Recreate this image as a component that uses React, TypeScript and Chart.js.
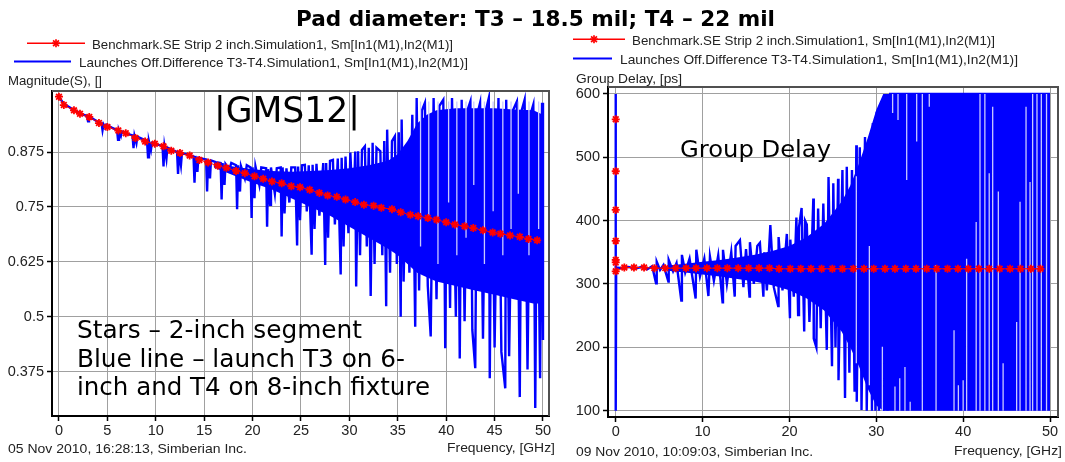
import React, { useEffect, useRef } from "react";
import { Chart, registerables } from "chart.js";

Chart.register(...registerables);

// ---------------- Left chart: |GMS12| magnitude ----------------
const xTicksL = [0, 5, 10, 15, 20, 25, 30, 35, 40, 45, 50];
const xLabelsL = ["0", "5", "10", "15", "20", "25", "30", "35", "40", "45", "50"];
const yTicksL = [0.375, 0.5, 0.625, 0.75, 0.875];
const yLabelsL = ["0.375", "0.5", "0.625", "0.75", "0.875"];

// Benchmark (stars)
const redFL = [0, 0.5, 1.55, 2.17, 3.13, 4.13, 5.0, 6.13, 6.9, 7.9,
  8.9, 9.9, 10.8, 11.6, 12.5, 13.5, 14.5, 15.4, 16.4, 17.3,
  18.3, 19.2, 20.2, 21.1, 22.0, 23.0, 24.0, 24.9, 25.9, 26.9,
  27.75, 28.7, 29.6, 30.6, 31.5, 32.5, 33.3, 34.4, 35.3, 36.3,
  37.1, 38.1, 39.0, 40.0, 40.9, 41.9, 42.8, 43.8, 44.8, 45.6,
  46.6, 47.6, 48.5, 49.4];
const redVL = [1.001, 0.982, 0.970, 0.962, 0.955, 0.941, 0.932, 0.924, 0.918, 0.907,
  0.899, 0.894, 0.888, 0.878, 0.873, 0.867, 0.857, 0.851, 0.844, 0.839,
  0.832, 0.827, 0.820, 0.814, 0.808, 0.804, 0.797, 0.795, 0.789, 0.782,
  0.776, 0.773, 0.767, 0.761, 0.755, 0.753, 0.748, 0.745, 0.738, 0.732,
  0.729, 0.725, 0.721, 0.715, 0.710, 0.706, 0.702, 0.697, 0.692, 0.689,
  0.685, 0.682, 0.677, 0.674];

// Launches difference (blue line: peaks and dips)
const blueFL = [0, 0.5, 1.0, 1.5, 2.0, 2.5, 2.9, 3.0, 3.1, 3.5,
  4.0, 4.4, 4.5, 4.6, 4.8, 4.9, 5.5, 6.0, 6.1, 6.2,
  6.4, 6.5, 7.0, 7.6, 7.7, 7.8, 8.0, 8.1, 8.6, 9.1,
  9.2, 9.3, 9.5, 9.6, 10.2, 10.7, 10.8, 10.9, 11.1, 11.2,
  11.7, 12.2, 12.3, 12.4, 12.6, 12.7, 13.2, 13.9, 14.0, 14.1,
  14.3, 14.4, 14.8, 15.2, 15.3, 15.4, 15.6, 15.7, 16.2, 16.7,
  16.8, 16.9, 17.1, 17.2, 17.6, 17.8, 18.3, 18.4, 18.5, 18.7,
  18.8, 19.2, 19.4, 19.8, 19.9, 20.0, 20.2, 20.3, 20.7, 20.9,
  21.4, 21.5, 21.6, 21.8, 21.9, 22.3, 22.5, 22.9, 23.0, 23.1,
  23.3, 23.5, 23.8, 24.0, 24.4, 24.6, 24.7, 24.9, 25.1, 25.4,
  25.6, 25.8, 26.1, 26.2, 26.4, 26.6, 26.9, 27.3, 27.5, 27.6,
  27.8, 28.0, 28.3, 28.5, 28.8, 29.1, 29.2, 29.4, 29.6, 29.9,
  30.1, 30.4, 30.6, 30.7, 30.9, 31.1, 31.3, 31.6, 31.8, 32.0,
  32.2, 32.4, 32.6, 32.8, 33.2, 33.4, 33.6, 33.8, 33.9, 34.2,
  34.4, 34.7, 34.9, 35.1, 35.3, 35.4, 35.6, 35.9, 36.2, 36.5,
  36.8, 36.95, 37.2, 37.5, 37.8, 38.1, 38.4, 38.7, 39.0, 39.3,
  39.7, 39.9, 40.1, 40.4, 40.6, 41.0, 41.2, 41.4, 41.6, 41.9,
  42.2, 42.5, 42.7, 43.0, 43.2, 43.5, 43.8, 44.1, 44.4, 44.5,
  44.7, 45.0, 45.4, 45.7, 46.1, 46.2, 46.5, 46.9, 47.3, 47.6,
  47.8, 48.1, 48.4, 48.7, 49.0, 49.2, 49.4, 49.7, 49.9, 50.0];
const blueVL = [1.0, 0.985, 0.978, 0.971, 0.966, 0.96, 0.957, 0.945, 0.956, 0.951,
  0.944, 0.94, 0.925, 0.938, 0.93, 0.937, 0.93, 0.925, 0.903, 0.924,
  0.912, 0.922, 0.917, 0.913, 0.884, 0.912, 0.895, 0.91, 0.905, 0.9,
  0.863, 0.899, 0.88, 0.896, 0.892, 0.889, 0.842, 0.888, 0.86, 0.885,
  0.88, 0.875, 0.825, 0.874, 0.845, 0.872, 0.87, 0.865, 0.805, 0.866,
  0.83, 0.862, 0.86, 0.858, 0.785, 0.858, 0.815, 0.856, 0.852, 0.85,
  0.767, 0.85, 0.8, 0.848, 0.835, 0.85, 0.845, 0.745, 0.845, 0.785,
  0.843, 0.815, 0.845, 0.84, 0.725, 0.84, 0.77, 0.842, 0.8, 0.84,
  0.838, 0.705, 0.836, 0.755, 0.84, 0.78, 0.838, 0.84, 0.683, 0.84,
  0.735, 0.838, 0.76, 0.84, 0.84, 0.662, 0.842, 0.72, 0.845, 0.846,
  0.74, 0.845, 0.641, 0.846, 0.7, 0.848, 0.73, 0.85, 0.618, 0.85,
  0.68, 0.855, 0.857, 0.71, 0.86, 0.596, 0.862, 0.66, 0.865, 0.69,
  0.874, 0.72, 0.876, 0.569, 0.877, 0.64, 0.88, 0.888, 0.66, 0.885,
  0.547, 0.896, 0.62, 0.885, 0.877, 0.64, 0.9, 0.524, 0.926, 0.6,
  0.9, 0.911, 0.62, 0.92, 0.5, 0.949, 0.58, 0.888, 0.6, 0.96,
  0.477, 0.998, 0.56, 0.97, 0.987, 0.57, 0.455, 0.998, 0.54, 0.98,
  0.994, 0.428, 0.97, 0.52, 0.998, 0.5, 0.97, 0.405, 0.994, 0.49,
  0.97, 0.99, 0.47, 0.383, 0.96, 0.987, 0.45, 0.97, 0.998, 0.36,
  0.95, 0.43, 0.998, 0.42, 0.337, 0.994, 0.41, 0.97, 0.99, 0.317,
  0.97, 0.994, 0.38, 0.96, 0.983, 0.292, 0.95, 0.36, 0.987, 0.447];

// Dense (solid) core of the blue trace
const bandFL = [16, 18, 20, 22, 24, 26, 28, 30, 32, 34, 35, 36, 37, 38, 39, 41, 43, 45, 47, 49, 50];
const bandUL = [0.85, 0.842, 0.836, 0.832, 0.83, 0.832, 0.834, 0.838, 0.845, 0.855, 0.87, 0.9, 0.94, 0.96, 0.97, 0.975, 0.975, 0.975, 0.972, 0.97, 0.96];
const bandLL = [0.84, 0.822, 0.805, 0.79, 0.77, 0.75, 0.73, 0.705, 0.68, 0.655, 0.64, 0.62, 0.6, 0.59, 0.58, 0.57, 0.56, 0.55, 0.54, 0.53, 0.53];

// Light gaps inside the dense core
const gapFL = [37.35, 38.2, 39.15, 40.25, 41.1, 42.05, 42.85, 43.95, 44.85, 45.85, 46.7, 47.45, 48.55, 49.55];
const gapTL = [0.99, 0.99, 0.99, 0.99, 0.99, 0.99, 0.99, 0.99, 0.99, 0.99, 0.99, 0.99, 0.99, 0.99];
const gapBL = [0.66, 0.72, 0.62, 0.76, 0.64, 0.68, 0.8, 0.62, 0.74, 0.64, 0.7, 0.78, 0.64, 0.7];

// ---------------- Right chart: Group delay ----------------
const xTicksR = [0, 10, 20, 30, 40, 50];
const xLabelsR = ["0", "10", "20", "30", "40", "50"];
const yTicksR = [100, 200, 300, 400, 500, 600];
const yLabelsR = ["100", "200", "300", "400", "500", "600"];

const redFR = [0, 0, 0, 0, 0, 0, 0, 0.99, 2.1, 3.26,
  4.45, 5.7, 6.9, 8.1, 9.25, 10.5, 11.7, 12.85, 14.1, 15.3,
  16.5, 17.7, 18.8, 20.1, 21.3, 22.48, 23.7, 24.94, 26.1, 27.36,
  28.58, 29.7, 31.0, 32.15, 33.4, 34.57, 35.8, 36.95, 38.2, 39.4,
  40.6, 41.8, 43.0, 44.2, 45.4, 46.6, 47.8, 48.9];
const redVR = [560, 478, 417, 368, 338, 334, 320, 326, 326, 326,
  325, 325, 325, 325, 325, 325, 325, 325, 325, 325,
  325, 325, 324, 324, 324, 324, 324, 324, 324, 324,
  324, 324, 324, 324, 324, 324, 324, 324, 324, 324,
  324, 324, 324, 324, 324, 324, 324, 324];

const blueFR = [0, 0, 0.05, 0.8, 1.5, 2.2, 3.0, 3.6, 4.2, 4.64,
  4.72, 5.1, 5.5, 6.06, 6.1, 6.6, 7.0, 7.55, 7.62, 8.0,
  8.5, 9.2, 9.28, 9.7, 10.2, 10.67, 10.85, 11.3, 11.8, 12.3,
  12.35, 12.8, 13.3, 13.7, 13.8, 14.3, 14.7, 15.0, 15.4, 15.45,
  15.9, 16.3, 16.6, 17.0, 17.1, 17.4, 17.8, 18.2, 18.7, 18.75,
  19.2, 19.7, 20.06, 20.1, 20.5, 20.8, 21.0, 21.1, 21.4, 21.7,
  21.8, 22.0, 22.3, 22.75, 22.8, 23.1, 23.3, 23.6, 23.9, 24.3,
  24.5, 24.9, 25.05, 25.3, 25.6, 25.65, 26.1, 26.4, 26.6, 26.9,
  27.2, 27.5, 27.7, 27.75, 28.1, 28.3, 28.7, 28.9, 29.3, 29.5,
  29.6, 29.9, 30.05, 30.3, 30.6, 30.8, 31.1, 31.3, 31.6, 50];
const blueVR = [600, 100, 326, 325, 327, 324, 327, 323, 328, 301,
  335, 322, 330, 304, 338, 320, 333, 274, 346, 318,
  340, 277, 354, 312, 340, 281, 343, 305, 345, 271,
  354, 300, 350, 280, 360, 369, 295, 355, 280, 366,
  300, 360, 365, 280, 350, 290, 393, 295, 265, 374,
  290, 379, 246, 370, 280, 405, 251, 390, 420, 225,
  400, 394, 240, 435, 214, 200, 419, 230, 427, 196,
  469, 170, 459, 200, 466, 148, 480, 120, 485, 160,
  480, 130, 519, 114, 516, 101, 532, 100, 535, 100,
  554, 100, 572, 100, 585, 100, 596, 100, 600, 600];

const bandFR = [6, 8, 10, 12, 14, 16, 18, 20, 22, 24, 26, 27, 28, 29, 30, 30.8, 50];
const bandUR = [329, 332, 335, 338, 342, 346, 352, 360, 374, 395, 430, 455, 490, 530, 575, 600, 600];
const bandLR = [321, 318, 315, 312, 308, 304, 298, 290, 277, 258, 225, 200, 170, 135, 108, 100, 100];

const gapFR = [27.7, 29.2, 30.7, 31.88, 32.15, 32.5, 32.7, 33.3, 33.5, 33.9,
  34.65, 35.3, 36.1, 36.88, 38.95, 39.45, 40.0, 40.4, 41.5, 41.94,
  42.5, 43.0, 43.4, 44.05, 44.6, 46.16, 46.55, 47.24, 47.7, 48.0,
  48.5, 49.0, 49.6];
const gapTR = [470, 360, 201, 600, 138, 600, 151, 169, 600, 114,
  600, 600, 600, 330, 227, 140, 148, 340, 398, 600,
  600, 475, 580, 446, 175, 240, 430, 580, 461, 600,
  600, 600, 600];
const gapBR = [175, 140, 100, 570, 100, 559, 100, 100, 464, 100,
  525, 100, 580, 100, 100, 100, 100, 100, 100, 100,
  100, 100, 100, 100, 100, 100, 100, 100, 100, 100,
  100, 100, 100];

// ---------------- helpers ----------------
const FONT_UI = "'Liberation Sans', Arial, sans-serif";
const FONT_V = "'DejaVu Sans', Verdana, sans-serif";
const BLUE = "#0000ff";
const RED = "#ff0000";
const GAP = "#c8c8ff";

function pts(xs: number[], ys: number[]) {
  const n = Math.min(xs.length, ys.length);
  const out: any[] = [];
  for (let i = 0; i < n; i++) out.push({ x: xs[i], y: ys[i] });
  return out;
}

function gapPts(xs: number[], tops: number[], bots: number[]) {
  const n = Math.min(xs.length, tops.length, bots.length);
  const out: any[] = [];
  for (let i = 0; i < n; i++) {
    out.push({ x: xs[i], y: tops[i] }, { x: xs[i], y: bots[i] }, { x: xs[i], y: null });
  }
  return out;
}

const framePlugin = {
  id: "frameBorder",
  afterDraw(chart: any) {
    const { ctx, chartArea: a } = chart;
    ctx.save();
    ctx.strokeStyle = "#505050";
    ctx.lineWidth = 2;
    ctx.beginPath();
    ctx.moveTo(a.left, a.top);
    ctx.lineTo(a.right, a.top);
    ctx.lineTo(a.right, a.bottom);
    ctx.stroke();
    ctx.restore();
  },
};

function axis(min: number, max: number, ticks: number[], labels: string[], horizontal: boolean, size: number) {
  return {
    type: "linear",
    min,
    max,
    afterBuildTicks: (s: any) => {
      s.ticks = ticks.map((v) => ({ value: v }));
    },
    afterFit: (s: any) => {
      if (horizontal) s.height = size;
      else s.width = size;
    },
    grid: {
      color: "#a0a0a0",
      lineWidth: 1,
      drawTicks: true,
      tickLength: 5,
      tickColor: "#000",
      tickWidth: 1.5,
    },
    border: { display: true, color: "#000", width: 2 },
    ticks: {
      color: "#222",
      font: { family: FONT_UI, size: 14.5 },
      padding: horizontal ? 1 : 3,
      maxRotation: 0,
      autoSkip: false,
      callback: (_v: any, i: number) => labels[i] ?? "",
    },
  };
}

function datasets(
  redD: any[], gapD: any[], blueD: any[], bandU: any[], bandL: any[]
) {
  return [
    {
      data: redD,
      borderColor: RED,
      borderWidth: 1,
      pointStyle: "star",
      pointRadius: 4,
      pointBorderColor: RED,
      pointBackgroundColor: RED,
      pointBorderWidth: 1.8,
      segment: {
        borderColor: (ctx: any) => (Math.abs(ctx.p0.x - ctx.p1.x) < 0.5 ? "rgba(0,0,0,0)" : RED),
      },
    },
    { data: gapD, borderColor: GAP, borderWidth: 1.3, pointRadius: 0, spanGaps: false },
    { data: blueD, borderColor: BLUE, borderWidth: 2.4, pointRadius: 0 },
    { data: bandU, borderColor: "rgba(0,0,255,0)", borderWidth: 1, pointRadius: 0, fill: "+1", backgroundColor: BLUE },
    { data: bandL, borderColor: "rgba(0,0,255,0)", borderWidth: 1, pointRadius: 0, fill: false },
  ];
}

function leftConfig(): any {
  return {
    type: "line",
    data: {
      datasets: datasets(
        pts(redFL, redVL),
        gapPts(gapFL, gapTL, gapBL),
        pts(blueFL, blueVL),
        pts(bandFL, bandUL),
        pts(bandFL, bandLL)
      ),
    },
    options: {
      responsive: false,
      maintainAspectRatio: false,
      animation: false,
      events: [],
      layout: { padding: { left: 0, top: 91, right: 11, bottom: 4 } },
      plugins: { legend: { display: false }, tooltip: { enabled: false }, title: { display: false } },
      scales: {
        x: axis(-0.72, 50.62, xTicksL, xLabelsL, true, 20),
        y: axis(0.274, 1.014, yTicksL, yLabelsL, false, 52),
      },
    },
    plugins: [framePlugin],
  };
}

function rightConfig(): any {
  return {
    type: "line",
    data: {
      datasets: datasets(
        pts(redFR, redVR),
        gapPts(gapFR, gapTR, gapBR),
        pts(blueFR, blueVR),
        pts(bandFR, bandUR),
        pts(bandFR, bandLR)
      ),
    },
    options: {
      responsive: false,
      maintainAspectRatio: false,
      animation: false,
      events: [],
      layout: { padding: { left: 0, top: 87, right: 7, bottom: 3 } },
      plugins: { legend: { display: false }, tooltip: { enabled: false }, title: { display: false } },
      scales: {
        x: axis(-0.89, 50.92, xTicksR, xLabelsR, true, 20),
        y: axis(90, 611, yTicksR, yLabelsR, false, 48),
      },
    },
    plugins: [framePlugin],
  };
}

function ChartCanvas({ make, left, width, height }: any) {
  const ref = useRef<HTMLCanvasElement>(null);
  useEffect(() => {
    const chart = new Chart(ref.current as HTMLCanvasElement, make());
    return () => chart.destroy();
  }, []);
  return (
    <canvas
      ref={ref}
      width={width}
      height={height}
      style={{ position: "absolute", left, top: 0, width, height }}
    />
  );
}

function Star({ x, y }: any) {
  const r = 4;
  const d = 2.9;
  return (
    <g stroke={RED} strokeWidth={1.7}>
      <line x1={x - r} y1={y} x2={x + r} y2={y} />
      <line x1={x} y1={y - r} x2={x} y2={y + r} />
      <line x1={x - d} y1={y - d} x2={x + d} y2={y + d} />
      <line x1={x - d} y1={y + d} x2={x + d} y2={y - d} />
    </g>
  );
}

function T({ x, y, len, size, family, weight, fill, children }: any) {
  return (
    <text
      x={x}
      y={y}
      fontFamily={family || FONT_UI}
      fontSize={size || 13.5}
      fontWeight={weight || "normal"}
      fill={fill || "#222"}
      textLength={len}
      lengthAdjust="spacingAndGlyphs"
    >
      {children}
    </text>
  );
}

export default function App() {
  return (
    <div style={{ position: "absolute", left: 0, top: 0, width: 1065, height: 462, background: "#fff", overflow: "hidden" }}>
      <ChartCanvas make={leftConfig} left={0} width={560} height={440} />
      <ChartCanvas make={rightConfig} left={560} width={505} height={440} />
      <svg width={1065} height={462} style={{ position: "absolute", left: 0, top: 0, pointerEvents: "none" }}>
        <T x={296} y={26} len={479} size={21} family={FONT_V} weight="bold" fill="#000">
          Pad diameter: T3 – 18.5 mil; T4 – 22 mil
        </T>

        {/* left legend */}
        <rect x={27} y={42.5} width={58} height={1.5} fill={RED} />
        <Star x={56} y={43.25} />
        <T x={92} y={49} len={361}>Benchmark.SE Strip 2 inch.Simulation1, Sm[In1(M1),In2(M1)]</T>
        <rect x={14} y={60.5} width={57} height={2} fill={BLUE} />
        <T x={79} y={67} len={389}>Launches Off.Difference T3-T4.Simulation1, Sm[In1(M1),In2(M1)]</T>
        <T x={8} y={85} len={94}>Magnitude(S), []</T>

        {/* right legend */}
        <rect x={573} y={38.5} width={52} height={1.5} fill={RED} />
        <Star x={594} y={39.25} />
        <T x={632} y={45} len={363}>Benchmark.SE Strip 2 inch.Simulation1, Sm[In1(M1),In2(M1)]</T>
        <rect x={573} y={57.5} width={39} height={2} fill={BLUE} />
        <T x={620} y={64} len={398}>Launches Off.Difference T3-T4.Simulation1, Sm[In1(M1),In2(M1)]</T>
        <T x={576} y={82.5} len={106}>Group Delay, [ps]</T>

        {/* footers */}
        <T x={8} y={453} len={239}>05 Nov 2010, 16:28:13, Simberian Inc.</T>
        <T x={447} y={452} len={108}>Frequency, [GHz]</T>
        <T x={576} y={455.5} len={237}>09 Nov 2010, 10:09:03, Simberian Inc.</T>
        <T x={954} y={455} len={108}>Frequency, [GHz]</T>

        {/* annotations */}
        <T x={214} y={122} len={146} size={36} family={FONT_V} fill="#000">|GMS12|</T>
        <T x={680} y={157} len={151} size={23} family={FONT_V} fill="#000">Group Delay</T>
        <T x={77} y={338} len={285} size={24} family={FONT_V} fill="#000">Stars – 2-inch segment</T>
        <T x={77} y={367} len={328} size={24} family={FONT_V} fill="#000">Blue line – launch T3 on 6-</T>
        <T x={77} y={395} len={353} size={24} family={FONT_V} fill="#000">inch and T4 on 8-inch fixture</T>
      </svg>
    </div>
  );
}
